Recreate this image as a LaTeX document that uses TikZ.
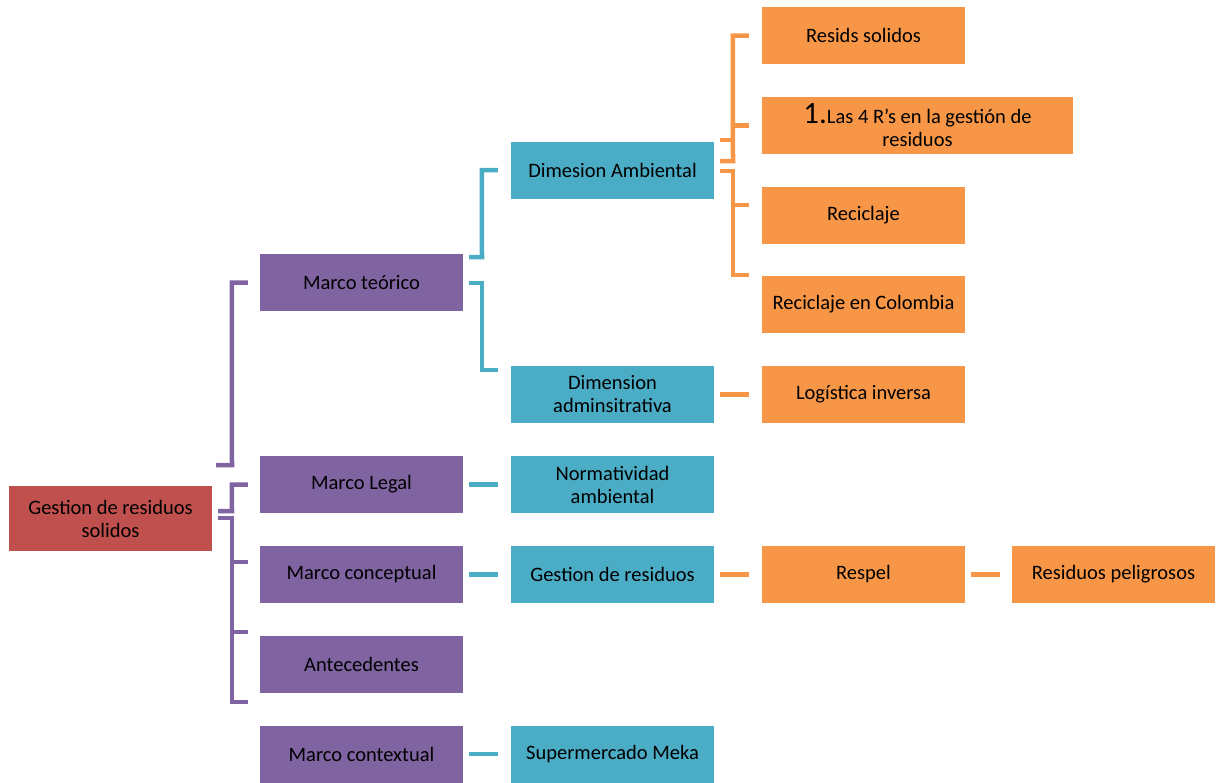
\documentclass[tikz,border=0pt]{standalone}
\usepackage{fontspec}
\setmainfont{Carlito}
\definecolor{boxred}{HTML}{C0504D}
\definecolor{boxpurple}{HTML}{8064A2}
\definecolor{boxteal}{HTML}{4BACC6}
\definecolor{boxorange}{HTML}{F79646}
\begin{document}
\begin{tikzpicture}[x=1pt,y=-1pt,
       every node/.style={font=\fontsize{20.5}{23}\selectfont,text=black},
       box/.style={minimum width=203pt,minimum height=57pt,inner sep=0pt,
                   align=center},
       rbox/.style={box,fill=boxred,minimum height=65pt},
       pbox/.style={box,fill=boxpurple},
       tbox/.style={box,fill=boxteal},
       obox/.style={box,fill=boxorange},
       plink/.style={draw=boxpurple,line width=4.5pt},
       tlink/.style={draw=boxteal,line width=4.5pt},
       olink/.style={draw=boxorange,line width=4.5pt}]
    \useasboundingbox (0,0) rectangle (1217,782);
    % root
    \node[rbox] (root) at (110.5,518.5) {Gestion de residuos\\solidos};
    % marcos
    \node[pbox] (mteo) at (361.5,282.5) {Marco teórico};
    \node[pbox] (mleg) at (361.5,484.5) {Marco Legal};
    \node[pbox] (mcon) at (361.5,574.5) {Marco conceptual};
    \node[pbox] (ante) at (361.5,664.5) {Antecedentes};
    \node[pbox] (mctx) at (361.5,754)   {Marco contextual};
    % dimensiones
    \node[tbox] (dima) at (612.5,170)   {Dimesion Ambiental};
    \node[tbox] (dimd) at (612.5,394.5) {Dimension\\adminsitrativa};
    \node[tbox] (norm) at (612.5,484.5) {Normatividad\\ambiental};
    \node[tbox] (gres) at (612.5,574.5) {Gestion de residuos};
    \node[tbox] (meka) at (612.5,754)   {Supermercado Meka};
    % temas
    \node[obox] (resi) at (863.5,35.5)  {Resids solidos};
    \node[obox,minimum width=311pt] (cuat) at (917.5,125.5)
        {{\fontsize{31}{23}\selectfont 1.}Las 4 R’s en la gestión de\\residuos};
    \node[obox] (reci) at (863.5,215.5) {Reciclaje};
    \node[obox] (rcol) at (863.5,304.5) {Reciclaje en Colombia};
    \node[obox] (logi) at (863.5,394.5) {Logística inversa};
    \node[obox] (resp) at (863.5,574.5) {Respel};
    \node[obox] (rpel) at (1113.5,574.5) {Residuos peligrosos};

    % purple brackets
    \draw[plink] ([xshift=-12]mteo.west) -- ++(-16,0) -- (232,465) -- (216,465);
    \draw[plink] ([xshift=-12]mleg.west) -- ++(-16,0) -- (232,511) -- (218,511);
    \draw[plink] (218,518) -- (232,518) -- (232,702) -- (248,702);
    \draw[plink] (232,562) -- (248,562);
    \draw[plink] (232,632) -- (248,632);
    % teal brackets
    \draw[tlink] ([xshift=-13]dima.west) -- ++(-16,0) -- (482,257) -- (469,257);
    \draw[tlink] (469,283) -- (482,283) -- (482,370) -- (498,370);
    \draw[tlink] ([xshift=6]mleg.east) -- ([xshift=-13]norm.west);
    \draw[tlink] ([xshift=6]mcon.east) -- ([xshift=-13]gres.west);
    \draw[tlink] ([xshift=6]mctx.east) -- ([xshift=-13]meka.west);
    % orange brackets
    \draw[olink] ([xshift=-13]resi.west) -- ++(-16,0) -- (733,161) -- (720,161);
    \draw[olink] (733,125.5) -- ([xshift=-13]cuat.west);
    \draw[olink] (720,140) -- (733,140);
    \draw[olink] (720,171) -- (733,171) -- (733,275) -- (749,275);
    \draw[olink] (733,205) -- (749,205);
    \draw[olink] ([xshift=6]dimd.east) -- ([xshift=-13]logi.west);
    \draw[olink] ([xshift=6]gres.east) -- ([xshift=-13]resp.west);
    \draw[olink] ([xshift=6]resp.east) -- ([xshift=-12]rpel.west);
\end{tikzpicture}
\end{document}
